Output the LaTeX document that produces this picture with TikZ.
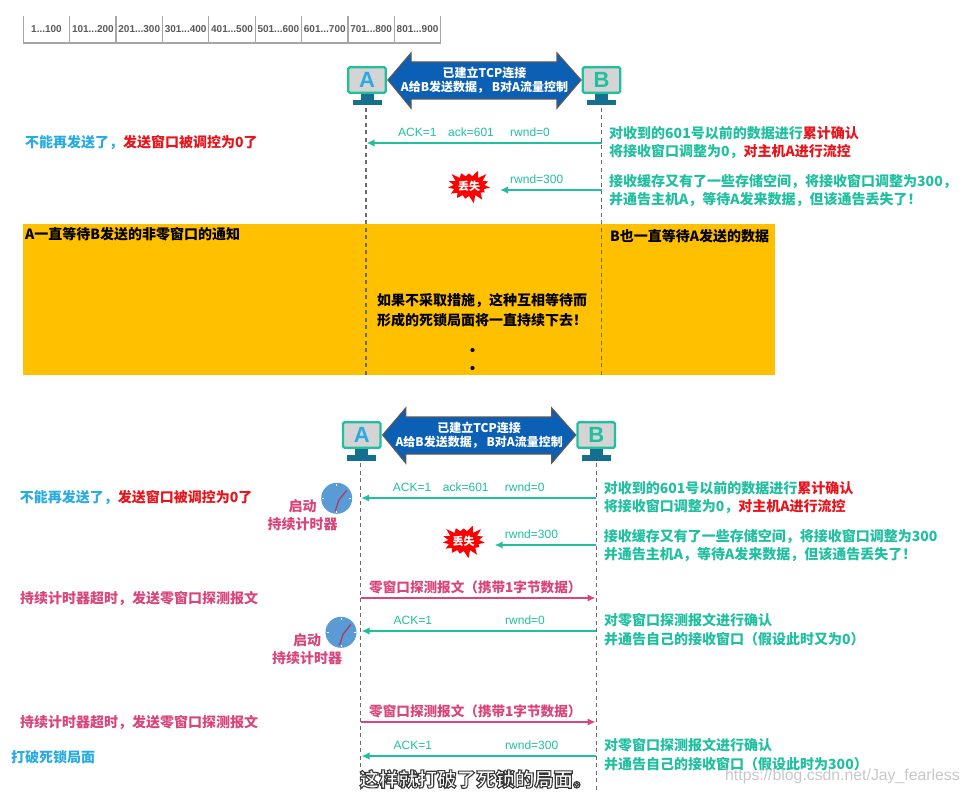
\documentclass[tikz,border=0pt]{standalone}
\usepackage{fontspec}
\usepackage{amsmath}
\setmainfont{Noto Sans CJK SC}
\newfontfamily\latinfont{Liberation Sans}
\usetikzlibrary{shapes.symbols,calc,arrows.meta}

\definecolor{tealtxt}{HTML}{1FBF9F}
\definecolor{skytxt}{HTML}{29ABE2}
\definecolor{redtxt}{HTML}{E8141C}
\definecolor{pinktxt}{HTML}{D9457A}
\definecolor{standcol}{HTML}{176F8F}
\definecolor{linkblue}{HTML}{0B5FB5}
\definecolor{clockblue}{HTML}{5B9BD5}
\definecolor{bandcol}{HTML}{FFC000}

\tikzset{
  note/.style={anchor=west,inner sep=0pt,font=\fontsize{14}{17}\selectfont\bfseries},
  tealnote/.style={note,text=tealtxt},
  pinknote/.style={note,text=pinktxt},
  blacknote/.style={note,text=black},
  seglabel/.style={anchor=west,inner sep=0pt,text=tealtxt,font=\fontsize{12}{14}\selectfont\latinfont},
  cellbox/.style={inner sep=0pt,text=black!65,font=\fontsize{10}{12}\selectfont\latinfont\bfseries},
  hostbox/.style={draw=tealtxt,line width=2.4pt,rounded corners=1.5pt,fill=black!17,
    minimum width=37.5pt,minimum height=25.5pt,inner sep=0pt,font=\fontsize{22}{24}\selectfont\latinfont\bfseries},
  lifeline/.style={draw=black!58,line width=1.3pt,dash pattern=on 4pt off 3.5pt},
  ackline/.style={->,draw=tealtxt,line width=2.1pt},
  probeline/.style={->,draw=pinktxt,line width=2.1pt},
  lostmark/.style={starburst,starburst points=15,starburst point height=8pt,random starburst=3,
    fill=red,draw=none,inner sep=0pt,minimum width=35pt,minimum height=36pt,text=white,
    font=\fontsize{11}{13}\selectfont\bfseries},
  clockface/.style={circle,fill=clockblue,minimum size=31pt,inner sep=0pt},
}

\begin{document}
\begin{tikzpicture}[x=1pt,y=-1pt,>={Latex[length=8pt,width=7.5pt]}]
    \useasboundingbox (0,0) rectangle (969,794);
    % Byte ranges
    \draw[black!35,line width=1.4pt] (23.3,16) -- (23.3,43) -- (440.7,43) -- (440.7,16);
    \foreach \lo/\hi [count=\i from 0] in {1/100,101/200,201/300,301/400,401/500,501/600,601/700,701/800,801/900} {
      \draw[black!35,line width=1.2pt] ({23.3+46.38*\i},16) -- ({23.3+46.38*\i},43);
      \node[cellbox] (cell\i) at ({46.5+46.38*\i},29) {\lo...\hi};
    }
    % Waiting band
    \fill[bandcol] (23,224) rectangle (775,375);
    \node[blacknote] (waitA) at (25,234) {A一直等待B发送的非零窗口的通知};
    \node[blacknote] (waitB) at (610,236) {B也一直等待A发送的数据};
    \node[blacknote] (deadA) at (377,301) {如果不采取措施，这种互相等待而};
    \node[blacknote] (deadB) at (377,320) {形成的死锁局面将一直持续下去！};
    \foreach \y/\n in {350/one,368/two} {
      \node[circle,fill=black,inner sep=0pt,minimum size=4.2pt] (dot\n) at (472.5,\y) {};
    }
    % The two runs share their head
    \foreach \sec/\dx/\dy/\ybot/\tail in {top/0/0/375/，,low/-5.3/355/435/} {
      \begin{scope}[shift={(\dx,\dy)}]
        \coordinate (lifeA\sec) at (366,108);
        \coordinate (lifeB\sec) at (601.7,108);
        \coordinate (endA\sec) at (366,\ybot);
        \coordinate (endB\sec) at (601.7,\ybot);
        \draw[lifeline] (lifeA\sec) -- (endA\sec);
        \draw[lifeline] (lifeB\sec) -- (endB\sec);
        \foreach \h/\x/\c in {A/367/skytxt,B/601.5/tealtxt} {
          \fill[standcol] (\x-6.5,94) rectangle (\x+6.5,100);
          \fill[standcol] (\x-14.5,100) rectangle (\x+14.5,105.5);
          \node[hostbox,text=\c] (host\h\sec) at (\x,80) {\h};
        }
        \draw[draw=black!65,line width=1.2pt,fill=linkblue] (388,80) -- (411,53) -- (411,62) -- (557,62)
          -- (557,53) -- (581,80) -- (557,108) -- (557,99) -- (411,99) -- (411,108) -- cycle;
        \node[inner sep=0pt,text=white,align=center,font=\fontsize{12}{14.5}\selectfont\bfseries] (link\sec) at (484.5,80)
          {已建立TCP连接\\A给B发送数据， B对A流量控制};
        \coordinate (ackA\sec) at (366.5,143);
        \coordinate (ackB\sec) at (601.7,143);
        \coordinate (lostB\sec) at (601.7,190);
        \coordinate (lostA\sec) at (500,190);
        \draw[ackline] (ackB\sec) -- (ackA\sec);
        \draw[ackline] (lostB\sec) -- (lostA\sec);
        \node[seglabel] (ackflag\sec) at (398,132) {ACK=1};
        \node[seglabel] (acknum\sec) at (448,132) {ack=601};
        \node[seglabel] (rwndzero\sec) at (510,132) {rwnd=0};
        \node[seglabel] (rwndmore\sec) at (510,179) {rwnd=300};
        \node[lostmark] (lost\sec) at (469,186) {丢失};
        \node[note,text=skytxt] (stop\sec) at (25,143) {不能再发送了，\textcolor{redtxt}{发送窗口被调控为0了}};
        \node[tealnote] (ackoneR\sec) at (609,133) {对收到的601号以前的数据进行\textcolor{redtxt}{累计确认}};
        \node[tealnote] (acktwoR\sec) at (609,152) {将接收窗口调整为0，\textcolor{redtxt}{对主机A进行流控}};
        \node[tealnote] (lostoneR\sec) at (609,181.5) {接收缓存又有了一些存储空间，将接收窗口调整为300\tail};
        \node[tealnote] (losttwoR\sec) at (609,200) {并通告主机A，等待A发来数据，但该通告丢失了！};
      \end{scope}
    }
    % Zero window probes
    \foreach \n/\y in {a/598,b/722} {
      \coordinate (probeA\n) at (361,\y);
      \coordinate (probeB\n) at (595.5,\y);
      \draw[probeline] (probeA\n) -- (probeB\n);
      \node[note,text=pinktxt,font=\fontsize{13.6}{17}\selectfont\bfseries] (probe\n) at (369,\y-11) {零窗口探测报文（携带1字节数据）};
      \node[pinknote] (probeL\n) at (20,\y+1) {持续计时器超时，发送零窗口探测报文};
    }
    % Answers to the probes
    \foreach \n/\y/\w/\s in {a/631/0/又为0,b/756/300/为300} {
      \coordinate (answerB\n) at (596.4,\y);
      \coordinate (answerA\n) at (361.5,\y);
      \draw[ackline] (answerB\n) -- (answerA\n);
      \node[seglabel] (flag\n) at (393.5,\y-11) {ACK=1};
      \node[seglabel] (rwnd\n) at (505,\y-11) {rwnd=\w};
      \node[tealnote] (answerone\n) at (604,\y-11) {对零窗口探测报文进行确认};
      \node[tealnote] (answertwo\n) at (604,\y+8) {并通告自己的接收窗口（假设此时\s）};
    }
    % Persist timers
    \foreach \n/\cx/\cy in {a/336.7/498.3,b/341/632.3} {
      \node[clockface] (clock\n) at (\cx,\cy) {};
      \foreach \a in {0,90,180,270} {
        \draw[white,line width=.8pt] ($(\cx,\cy)+(\a:12.5)$) -- ($(\cx,\cy)+(\a:14.5)$);
      }
      \draw[pinktxt!80!black,line width=1.2pt] (\cx-1.5,\cy+13) -- (\cx+2,\cy+2) -- (\cx+10,\cy-8);
      \node[inner sep=0pt,text=pinktxt,font=\fontsize{14}{17}\selectfont\bfseries] (startone\n) at (\cx-34,\cy+8) {启动};
      \node[inner sep=0pt,text=pinktxt,font=\fontsize{14}{17}\selectfont\bfseries] (starttwo\n) at (\cx-34,\cy+26) {持续计时器};
    }
    \node[note,text=skytxt] (broken) at (11,757) {打破死锁局面};
    % Caption with a dark rim
    \node[inner sep=0pt,text=white,font=\fontsize{19.4}{22}\selectfont\bfseries] (caption) at (476,779)
      {\special{pdf:code 2 Tr 1.1 w 0.22 0.22 0.22 RG}这样就打破了死锁的局面。\special{pdf:code 0 Tr 1 w}};
    \node[anchor=west,inner sep=0pt,text=black!22,font=\fontsize{15.8}{20}\selectfont\latinfont] (mark) at (725,776) {https://blog.csdn.net/Jay\_fearless};
  \end{tikzpicture}
\end{document}
